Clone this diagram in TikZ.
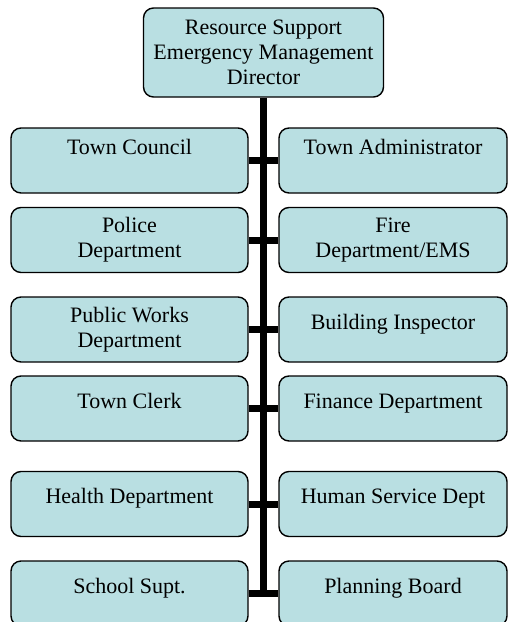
\documentclass[tikz,border=0pt]{standalone}
\usepackage{fontspec}
\setmainfont{Liberation Serif}
\newfontfamily\orgfont{Liberation Serif}
\definecolor{boxfill}{RGB}{185,223,226}
\begin{document}
\begin{tikzpicture}[x=1pt,y=-1pt,
  box/.style={draw=black, line width=1.4pt, fill=boxfill, rounded corners=10pt,
    align=center, font=\orgfont\fontsize{22}{25}\selectfont, inner sep=0pt, minimum height=65pt},
  lbox/.style={box, minimum width=237pt},
  rbox/.style={box, minimum width=228pt},
  hightext/.style={text height=15pt, text depth=28pt},
  midtext/.style={text height=15pt, text depth=16pt},
  link/.style={line width=7pt}]
\clip (0,0) rectangle (508,622);
\useasboundingbox (0,0) rectangle (508,622);

\node[box, minimum width=240pt, minimum height=89pt, text depth=1pt] (top) at (263.5,52.5)
  {Resource Support\\Emergency Management\\Director};

\node[lbox, hightext] (l1) at (129.5,160.5) {Town Council};
\node[rbox, hightext] (r1) at (393,160.5) {Town Administrator};
\node[lbox] (l2) at (129.5,240) {Police\\Department};
\node[rbox] (r2) at (393,240) {Fire\\Department/EMS};
\node[lbox] (l3) at (129.5,329.5) {Public Works\\Department};
\node[rbox, midtext] (r3) at (393,329.5) {Building Inspector};
\node[lbox, midtext] (l4) at (129.5,408.5) {Town Clerk};
\node[rbox, midtext] (r4) at (393,408.5) {Finance Department};
\node[lbox, midtext] (l5) at (129.5,504) {Health Department};
\node[rbox, midtext] (r5) at (393,504) {Human Service Dept};
\node[lbox, midtext] (l6) at (129.5,593.5) {School Supt.};
\node[rbox, midtext] (r6) at (393,593.5) {Planning Board};

\coordinate (trunkend) at (263.5,597);
\draw[link] (top.south) -- (trunkend);
\foreach \i in {1,...,6}{
  \draw[link] (l\i.east) -- (r\i.west);
}
\end{tikzpicture}
\end{document}
